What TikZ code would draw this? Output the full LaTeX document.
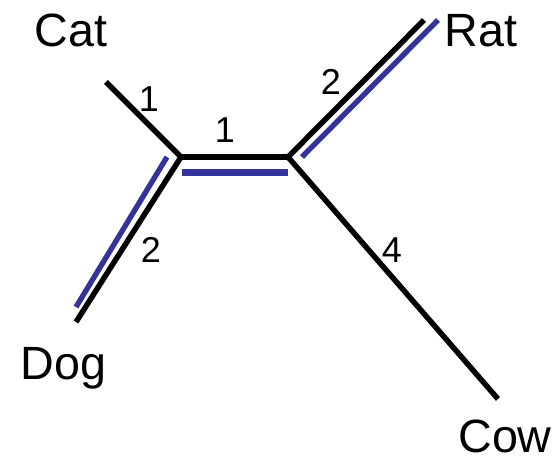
\documentclass[tikz,border=0pt]{standalone}
\usepackage{fontspec}
\setmainfont{Liberation Sans}
\definecolor{bl}{RGB}{51,51,153}
\tikzset{
  edgeb/.style={line width=4.1pt,black,line cap=butt},
  edgec/.style={line width=4pt,bl,line cap=butt},
  big/.style={font=\fontsize{35}{36}\selectfont,inner sep=0pt,text=black,anchor=base},
  small/.style={font=\fontsize{27}{28}\selectfont,inner sep=0pt,text=black}
}
\begin{document}
\begin{tikzpicture}[x=0.75pt,y=-0.75pt]
\useasboundingbox (0,0) rectangle (558,460);
\coordinate (A) at (181,157);
\coordinate (B) at (288,157);
\coordinate (CatE) at (106,82);
\coordinate (DogE) at (76,322);
\coordinate (RatE) at (424,20);
\coordinate (CowE) at (498,399);
\coordinate (d1) at (167,157);
\coordinate (d2) at (76,307);
\coordinate (r1) at (302,157);
\coordinate (r2) at (438,20);
\coordinate (m1) at (182,172.3);
\coordinate (m2) at (288,172.3);
\draw[edgeb] (CatE) -- (A);
\draw[edgeb] (DogE) -- (A);
\draw[edgeb,line width=4.6pt] (A) -- (B);
\draw[edgeb] (RatE) -- (B);
\draw[edgeb] (CowE) -- (B);
\draw[edgec] (d2) -- (d1);
\draw[edgec,line width=5pt] (m1) -- (m2);
\draw[edgec] (r1) -- (r2);
\node[big] (cat) at (71,47) {Cat};
\node[big] (dog) at (63.5,379.5) {Dog};
\node[big] (rat) at (481,47) {Rat};
\node[big] (cow) at (505,452) {Cow};
\node[small] (l1) at (149,99) {1};
\node[small] (l2) at (225,130) {1};
\node[small] (l3) at (331,81.5) {2};
\node[small] (l4) at (151,250) {2};
\node[small] (l5) at (392,250) {4};
\end{tikzpicture}
\end{document}
